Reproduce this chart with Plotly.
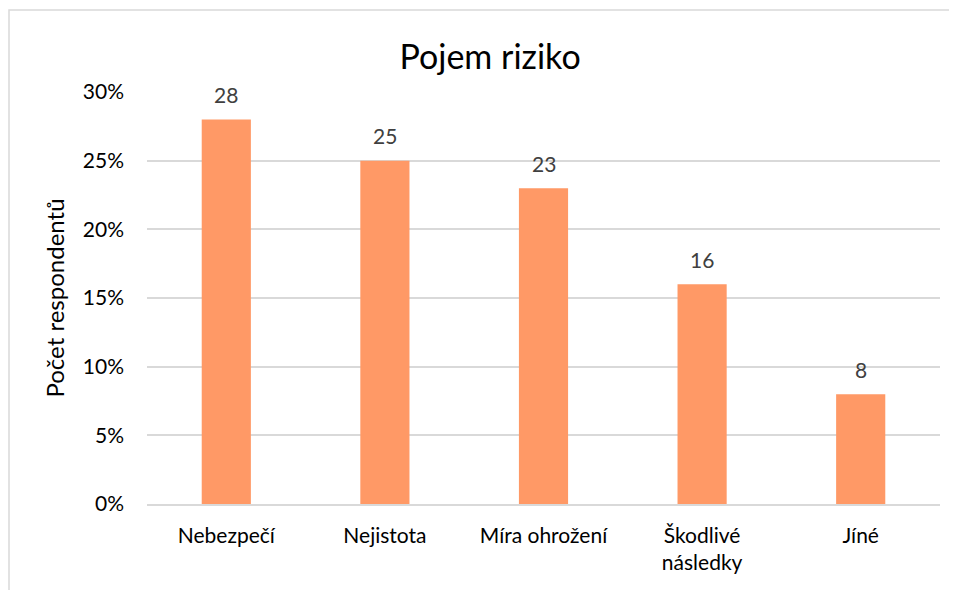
import plotly.graph_objects as go

categories = ["Nebezpečí", "Nejistota", "Míra ohrožení", "Škodlivé<br>následky", "Jíné"]
values = [28, 25, 23, 16, 8]
y_tick_vals = [0, 0.05, 0.10, 0.15, 0.20, 0.25, 0.30]
y_tick_text = ["0%", "5%", "10%", "15%", "20%", "25%", "30%"]

shares = [v / 100 for v in values]

FONT = "Lato, 'Open Sans', sans-serif"
GRID = "#d9d9d9"

fig = go.Figure()
fig.add_trace(go.Bar(
    x=categories,
    y=shares,
    marker=dict(color="#FF9966", line=dict(width=0)),
    hoverinfo="skip",
))

for c, v, s in zip(categories, values, shares):
    fig.add_annotation(
        x=c, y=s, text=str(v), showarrow=False,
        yanchor="middle", yshift=25,
        font=dict(family=FONT, size=21, color="#404040"),
    )

fig.update_layout(
    width=949, height=582,
    margin=dict(l=139, r=17, t=84, b=86),
    paper_bgcolor="white", plot_bgcolor="white",
    showlegend=False,
    bargap=0.69,
    title=dict(
        text="Pojem riziko", x=0.508, xanchor="center",
        y=0.915, yanchor="middle",
        font=dict(family=FONT, size=34, color="black"),
    ),
    xaxis=dict(
        showgrid=False, showline=True, linecolor=GRID, linewidth=1.5,
        ticks="", tickfont=dict(family=FONT, size=21, color="black"),
        ticklabelstandoff=12,
    ),
    yaxis=dict(
        range=[0, 0.30], tickvals=y_tick_vals, ticktext=y_tick_text,
        showgrid=True, gridcolor=GRID, gridwidth=1.5,
        zeroline=False, showline=False, ticks="",
        tickfont=dict(family=FONT, size=21, color="black"),
        ticklabelstandoff=22,
        title=dict(text="Počet respondentů", standoff=11,
                   font=dict(family=FONT, size=24, color="black")),
    ),
    shapes=[dict(
        type="rect", xref="paper", yref="paper",
        x0=(9 - 147) / 793, x1=2, y0=-1, y1=(504 - 10) / 412,
        line=dict(color=GRID, width=1.5), fillcolor="rgba(0,0,0,0)",
        layer="below",
    )],
)

fig.write_html("out.html")
